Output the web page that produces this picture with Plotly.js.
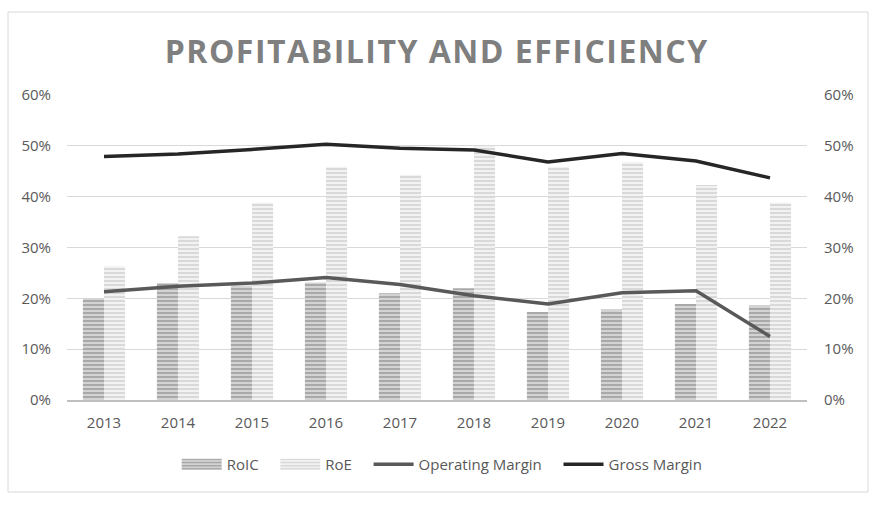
<!DOCTYPE html>
<html>
<head>
<meta charset="utf-8">
<script src="https://cdn.plot.ly/plotly-3.0.1.min.js"></script>
<style>
  html, body { margin: 0; padding: 0; background: #fff; }
  #chart { width: 884px; height: 506px; }
  .gtitle { letter-spacing: 1.5px; }
</style>
</head>
<body>
<div id="chart"></div>
<script>
const years = ['2013','2014','2015','2016','2017','2018','2019','2020','2021','2022'];
const roic = [0.200, 0.230, 0.225, 0.231, 0.210, 0.220, 0.173, 0.178, 0.189, 0.186];
const roe = [0.263, 0.322, 0.388, 0.459, 0.443, 0.500, 0.459, 0.468, 0.423, 0.388];
const operatingMargin = [0.213, 0.224, 0.230, 0.241, 0.227, 0.205, 0.189, 0.211, 0.215, 0.125];
const grossMargin = [0.479, 0.484, 0.493, 0.503, 0.495, 0.492, 0.468, 0.485, 0.470, 0.437];
const pctTicks = [0, 0.1, 0.2, 0.3, 0.4, 0.5, 0.6];
const pctLabels = ['0%', '10%', '20%', '30%', '40%', '50%', '60%'];
const seriesNames = ['RoIC', 'RoE', 'Operating Margin', 'Gross Margin'];

const pad = '\u00a0\u00a0\u00a0';

const traces = [
  {
    type: 'bar', name: seriesNames[0] + pad, x: years, y: roic,
    marker: { color: '#c4c4c4', line: { width: 0 },
      pattern: { shape: '-', size: 4, solidity: 0.5, fgcolor: '#a9a9a9', bgcolor: '#d3d3d3', fillmode: 'replace' } },
    hoverinfo: 'skip'
  },
  {
    type: 'bar', name: seriesNames[1] + pad, x: years, y: roe,
    marker: { color: '#e6e6e6', line: { width: 0 },
      pattern: { shape: '-', size: 4, solidity: 0.5, fgcolor: '#d9d9d9', bgcolor: '#f2f2f2', fillmode: 'replace' } },
    hoverinfo: 'skip'
  },
  {
    type: 'scatter', mode: 'lines', name: seriesNames[2] + pad, x: years, y: operatingMargin,
    yaxis: 'y2', line: { color: '#595959', width: 3.5 }, hoverinfo: 'skip'
  },
  {
    type: 'scatter', mode: 'lines', name: seriesNames[3], x: years, y: grossMargin,
    yaxis: 'y2', line: { color: '#262626', width: 3.5 }, hoverinfo: 'skip'
  }
];

const tickFont = { family: 'Open Sans, sans-serif', size: 15, color: '#595959' };

const layout = {
  width: 884, height: 506,
  margin: { l: 67, r: 77, t: 95, b: 106 },
  paper_bgcolor: '#ffffff', plot_bgcolor: '#ffffff',
  barmode: 'group', bargap: 0.43, bargroupgap: 0,
  title: {
    text: 'PROFITABILITY AND EFFICIENCY',
    font: { family: 'Open Sans, sans-serif', size: 32, color: '#7f7f7f', weight: 'bold' },
    x: 0.494, xanchor: 'center', xref: 'container',
    y: 0.897, yanchor: 'middle', yref: 'container'
  },
  xaxis: {
    type: 'category', tickfont: tickFont,
    showline: true, linecolor: '#bfbfbf', linewidth: 2,
    showgrid: false, ticks: '', ticklabelstandoff: 8, fixedrange: true
  },
  yaxis: {
    range: [0, 0.6], tickvals: pctTicks, ticktext: pctLabels, tickfont: tickFont,
    showgrid: true, gridcolor: '#d9d9d9', gridwidth: 1, zeroline: false,
    ticks: '', ticklabelstandoff: 15, fixedrange: true
  },
  yaxis2: {
    range: [0, 0.6], tickvals: pctTicks, ticktext: pctLabels, tickfont: tickFont,
    overlaying: 'y', side: 'right', showgrid: false, zeroline: false,
    ticks: '', ticklabelstandoff: 16, fixedrange: true
  },
  legend: {
    orientation: 'h', x: 0.507, xanchor: 'center', y: -0.157, yanchor: 'top',
    font: { family: 'Open Sans, sans-serif', size: 15, color: '#595959' },
    traceorder: 'normal', itemwidth: 40
  },
  shapes: [{
    type: 'rect', xref: 'paper', yref: 'paper',
    x0: -0.0797, x1: 1.0824, y0: -0.3016, y1: 1.272,
    line: { color: '#d9d9d9', width: 1 }, fillcolor: 'rgba(0,0,0,0)', layer: 'below'
  }],
  showlegend: true
};

Plotly.newPlot('chart', traces, layout, { displayModeBar: false, staticPlot: true }).then(function (gd) {
  // widen the bar legend swatches to match the wide rectangular keys
  gd.querySelectorAll('.legend .traces .legendpoints path').forEach(function (p) {
    const d = p.getAttribute('d') || '';
    if (/^M6,6H-6V-6H6Z$/.test(d.replace(/\s/g, ''))) {
      p.setAttribute('d', 'M20,5.5H-20V-5.5H20Z');
    }
  });
});
</script>
</body>
</html>
